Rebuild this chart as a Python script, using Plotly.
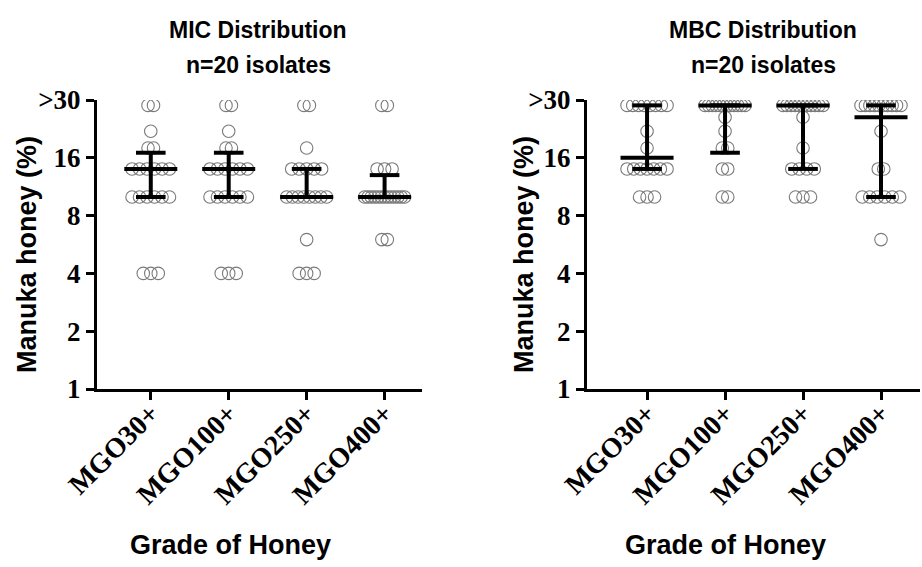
import plotly.graph_objects as go
from plotly.subplots import make_subplots

categories = ["MGO30+", "MGO100+", "MGO250+", "MGO400+"]
ytick_vals = [1, 2, 4, 8, 16, 32]
ytick_text = ["1", "2", "4", "8", "16", ">30"]

# MIC values (% honey) per isolate, n=20 each
mic_mgo30 = [4, 4, 4, 10, 10, 10, 10, 10, 10, 14, 14, 14, 14, 14, 14, 18, 18, 22, 30, 30]
mic_mgo100 = [4, 4, 4, 10, 10, 10, 10, 10, 10, 14, 14, 14, 14, 14, 14, 18, 18, 22, 30, 30]
mic_mgo250 = [4, 4, 4, 6, 10, 10, 10, 10, 10, 10, 10, 10, 14, 14, 14, 14, 14, 18, 30, 30]
mic_mgo400 = [6, 6, 10, 10, 10, 10, 10, 10, 10, 10, 10, 10, 10, 10, 10, 14, 14, 14, 30, 30]
mic_median = [14, 14, 10, 10]
mic_q1 = [10, 10, 10, 10]
mic_q3 = [17, 17, 14, 13]

# MBC values (% honey) per isolate, n=20 each
mbc_mgo30 = [10, 10, 10, 14, 14, 14, 14, 14, 14, 14, 18, 22, 30, 30, 30, 30, 30, 30, 30, 30]
mbc_mgo100 = [10, 10, 14, 14, 18, 18, 22, 26, 30, 30, 30, 30, 30, 30, 30, 30, 30, 30, 30, 30]
mbc_mgo250 = [10, 10, 10, 14, 14, 14, 14, 18, 26, 30, 30, 30, 30, 30, 30, 30, 30, 30, 30, 30]
mbc_mgo400 = [6, 10, 10, 10, 10, 10, 10, 14, 14, 22, 30, 30, 30, 30, 30, 30, 30, 30, 30, 30]
mbc_median = [16, 30, 30, 26]
mbc_q1 = [14, 17, 14, 10]
mbc_q3 = [30, 30, 30, 30]

mic_sets = [mic_mgo30, mic_mgo100, mic_mgo250, mic_mgo400]
mbc_sets = [mbc_mgo30, mbc_mgo100, mbc_mgo250, mbc_mgo400]

PX_PER_CAT = 78.0
W, H = 922, 567


def scatter_xy(sets):
    xs, ys = [], []
    for i, vals in enumerate(sets):
        levels = sorted(set(vals))
        for lv in levels:
            n = vals.count(lv)
            if n == 1:
                sp = 0
            elif n == 2:
                sp = 5.5
            else:
                sp = min(7.5, 40.0 / (n - 1))
            for k in range(n):
                off = (k - (n - 1) / 2.0) * sp / PX_PER_CAT
                xs.append(i + off)
                ys.append(lv)
    return xs, ys


def bar_xy(med, q1, q3, cap=0.19, mw=0.34):
    xs, ys = [], []
    for i in range(len(med)):
        xs += [i, i, None]
        ys += [q1[i], q3[i], None]
        xs += [i - cap, i + cap, None, i - cap, i + cap, None]
        ys += [q1[i], q1[i], None, q3[i], q3[i], None]
        xs += [i - mw, i + mw, None]
        ys += [med[i], med[i], None]
    return xs, ys


fig = make_subplots(rows=1, cols=2)

for col, sets, med, q1, q3 in [(1, mic_sets, mic_median, mic_q1, mic_q3),
                               (2, mbc_sets, mbc_median, mbc_q1, mbc_q3)]:
    sx, sy = scatter_xy(sets)
    fig.add_trace(go.Scatter(x=sx, y=sy, mode="markers",
                             marker=dict(symbol="circle-open", size=12.5, color="#7a7a7a",
                                         line=dict(width=1.1)),
                             showlegend=False, hoverinfo="skip"), row=1, col=col)
    bx, by = bar_xy(med, q1, q3)
    fig.add_trace(go.Scatter(x=bx, y=by, mode="lines",
                             line=dict(color="black", width=4),
                             showlegend=False, hoverinfo="skip"), row=1, col=col)

xtickfont = dict(family="Liberation Serif", size=28, color="black", weight="bold")
ytickfont = dict(family="Liberation Serif", size=27, color="black", weight="bold")
ylo, yhi = 1 - 389 / H, 1 - 100 / H

xaxis_common = dict(tickmode="array", tickvals=[0, 1, 2, 3], ticktext=categories,
                    tickangle=-45, tickfont=xtickfont, showline=True, linecolor="black",
                    linewidth=3, ticks="outside", ticklen=8, tickwidth=3, tickcolor="black",
                    showgrid=False, zeroline=False, automargin=False, ticklabelstandoff=-14)
yaxis_common = dict(type="log", range=[0, 1.50515], tickmode="array", tickvals=ytick_vals,
                    ticktext=ytick_text, tickfont=ytickfont, showline=True, linecolor="black",
                    linewidth=3, ticks="outside", ticklen=8, tickwidth=3, tickcolor="black",
                    showgrid=False, zeroline=False, domain=[ylo, yhi], automargin=False)

fig.update_layout(
    xaxis=dict(xaxis_common, domain=[97 / W, 422 / W], range=[-0.69, 3.48]),
    xaxis2=dict(xaxis_common, domain=[587 / W, 920 / W], range=[-0.77, 3.50]),
    yaxis=yaxis_common,
    yaxis2=yaxis_common,
    width=W, height=H,
    margin=dict(l=0, r=0, t=0, b=0),
    plot_bgcolor="white", paper_bgcolor="white",
)

title_font = dict(family="Liberation Sans", size=23, color="black")
axis_title_font = dict(family="Liberation Sans", size=27, color="black")
annots = [
    dict(text="<b>MIC Distribution</b>", x=258 / W, y=1 - 30 / H, font=title_font),
    dict(text="<b>n=20 isolates</b>", x=258 / W, y=1 - 65 / H, font=title_font),
    dict(text="<b>MBC Distribution</b>", x=763 / W, y=1 - 30 / H, font=title_font),
    dict(text="<b>n=20 isolates</b>", x=763 / W, y=1 - 65 / H, font=title_font),
    dict(text="<b>Grade of Honey</b>", x=230 / W, y=1 - 545 / H, font=axis_title_font),
    dict(text="<b>Grade of Honey</b>", x=725 / W, y=1 - 545 / H, font=axis_title_font),
    dict(text="<b>Manuka honey (%)</b>", x=27 / W, y=1 - 255 / H, textangle=-90, font=axis_title_font),
    dict(text="<b>Manuka honey (%)</b>", x=524 / W, y=1 - 255 / H, textangle=-90, font=axis_title_font),
]
for a in annots:
    fig.add_annotation(xref="paper", yref="paper", xanchor="center", yanchor="middle",
                       showarrow=False, **a)

fig.write_html("out.html", config={"displayModeBar": False},
               post_script="document.body.style.margin='0px';")
